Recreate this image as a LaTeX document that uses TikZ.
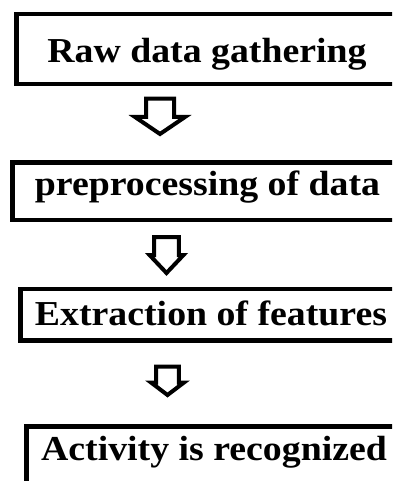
\documentclass[tikz,border=0pt]{standalone}
\usepackage{fontspec}
\setmainfont{Liberation Serif}[FakeStretch=1.08]

\tikzset{
  stage/.style={draw,rectangle,line width=4.5pt,anchor=base,inner xsep=0pt,inner ysep=0pt,
    font=\fontsize{35}{40}\selectfont\bfseries},
  arrowline/.style={draw,line width=4pt,line join=miter}
}

% hollow down arrow: x, top, shaft half width, shoulder y, head half width, tip y
\newcommand{\blockarrow}[6]{%
  \draw[arrowline] (#1-#3,#2) -- (#1+#3,#2) -- (#1+#3,#4) -- (#1+#5,#4) -- (#1,#6)
    -- (#1-#5,#4) -- (#1-#3,#4) -- cycle;}

\begin{document}
\begin{tikzpicture}[x=1pt,y=-1pt]
	\useasboundingbox (0,0) rectangle (392,481);
	\clip (0,0) rectangle (392,481);
	\fill[white] (0,0) rectangle (392,481);

	%boxes (right sides run off the page)
	\node[stage,text height=49pt,text depth=21pt,minimum width=381pt] (raw) at (207,63) {Raw data gathering};
	\node[stage,text height=32.5pt,text depth=25pt,minimum width=390pt] (prep) at (207.5,195) {preprocessing of data};
	\node[stage,text height=36pt,text depth=15.5pt,minimum width=381pt] (feat) at (211,325) {Extraction of features};
	\node[stage,text height=33.5pt,text depth=40pt,minimum width=375pt] (act) at (214,460) {Activity is recognized};

	%arrows
	\blockarrow{160}{98.7}{14}{117}{25}{134} %raw -> prep
	\blockarrow{166.5}{237}{12.3}{255}{17}{273} %prep -> feat
	\blockarrow{167.5}{366.5}{11.3}{382.5}{16.5}{395} %feat -> act

\end{tikzpicture}
\end{document}
